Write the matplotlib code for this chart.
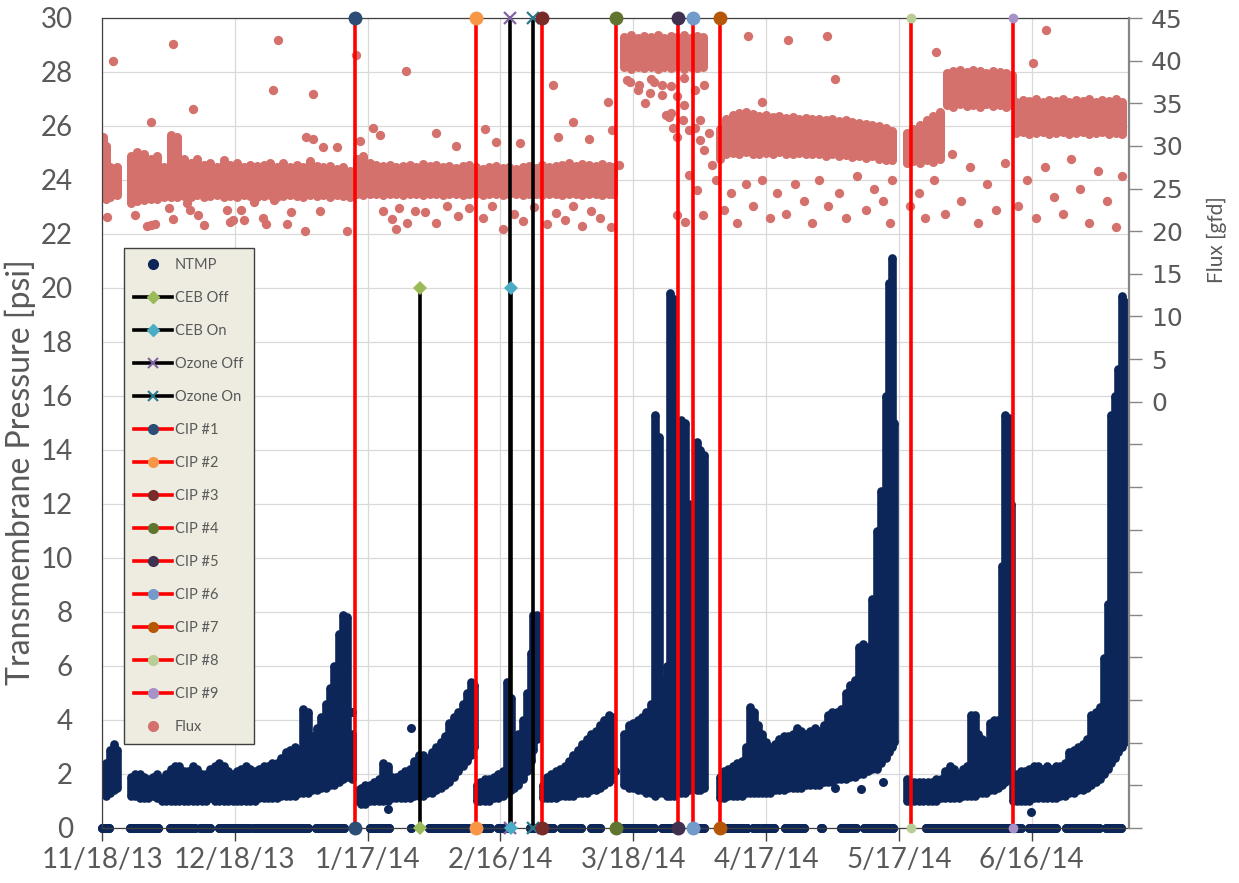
import numpy as np
import matplotlib
matplotlib.use('Agg')
import matplotlib.pyplot as plt
import matplotlib.dates as mdates
from matplotlib.lines import Line2D
from matplotlib.ticker import FixedLocator, FuncFormatter, MultipleLocator
from datetime import datetime

plt.rcParams['font.family'] = ['Lato', 'DejaVu Sans']

# all x values are days since the first sample (11/18/13)
start_date = datetime(2013, 11, 18)
tick_dates = ['2013-11-18', '2013-12-18', '2014-01-17', '2014-02-16',
              '2014-03-18', '2014-04-17', '2014-05-17', '2014-06-16']
last_day = 232

# --- NTMP (psi): per-day low / high of the logged values ---
ntmp_day = [0.2, 1.0, 1.8, 2.6, 3.3,
            6.6, 7.5, 8.5, 9.5, 10.5, 11.5, 12.5, 13.5, 14.5, 15.5, 16.5, 17.5, 18.5, 19.5,
            20.5, 21.5, 22.5, 23.5, 24.5, 25.5, 26.5, 27.5, 28.5, 29.5, 30.5, 31.5, 32.5,
            33.5, 34.5, 35.5, 36.5, 37.5, 38.5, 39.5, 40.5, 41.5, 42.5, 43.5, 44.5, 45.5,
            46.5, 47.5, 48.5, 49.5, 50.5, 51.5, 52.5, 53.5, 54.5, 55.3, 56.4,
            57.8, 58.6, 59.5, 60.5, 61.5, 62.5, 63.5, 64.5, 65.5, 66.5, 67.5, 68.5, 69.5,
            70.5, 71.5, 72.5, 73.5, 74.5, 75.5, 76.5, 77.5, 78.5, 79.5, 80.5, 81.5, 82.5,
            83.3, 84.0,
            84.8, 85.5, 86.5, 87.5, 88.5, 89.5, 90.5, 91.5, 92.3, 93.0, 94.0, 95.0, 96.0,
            96.8, 97.4, 98.2,
            99.6, 100.5, 101.5, 102.5, 103.5, 104.5, 105.5, 106.5, 107.5, 108.5, 109.5,
            110.5, 111.5, 112.5, 113.5, 114.5, 115.3,
            118.0, 119.0, 120.0, 121.0, 122.0, 123.0, 124.0, 124.9, 125.8, 126.7, 127.6,
            128.3, 129.2, 130.8, 131.7, 132.5, 134.3, 135.2, 135.9,
            139.6, 140.5, 141.5, 142.5, 143.5, 144.5, 145.5, 146.4, 147.3, 148.2, 149.0,
            150.0, 151.0, 152.0, 153.0, 154.0, 155.0, 156.0, 157.0, 158.0, 159.0, 160.0,
            161.0, 162.0, 163.0, 164.0, 165.0, 166.0, 167.0, 168.0, 169.0, 170.0, 171.0,
            172.0, 173.0, 174.0, 175.0, 176.0, 177.0, 177.8, 178.5, 179.0,
            181.8, 182.6, 183.5, 184.5, 185.5, 186.5, 187.5, 188.5, 189.5, 190.5, 191.5,
            192.5, 193.5, 194.5, 195.4, 196.2, 197.1, 198.0, 198.9, 199.8, 200.7, 201.6,
            202.4, 203.2, 204.0, 204.8, 205.4,
            205.9, 206.8, 207.7, 208.6, 209.5, 210.5, 211.5, 212.5, 213.5, 214.5, 215.5,
            216.5, 217.5, 218.5, 219.5, 220.5, 221.5, 222.5, 223.5, 224.5, 225.5, 226.4,
            227.2, 228.0, 228.8, 229.6, 230.4, 231.1]
ntmp_lo = [1.3, 1.2, 1.3, 1.4, 1.5,
           1.2, 1.2, 1.1, 1.1, 1.1, 1.2, 1.1, 1.0, 1.0, 1.0, 1.0, 1.0, 1.0, 1.0,
           1.0, 1.0, 1.0, 1.0, 1.1, 1.0, 1.0, 1.0, 1.0, 1.0, 1.0, 1.0, 1.0,
           1.0, 1.0, 1.1, 1.1, 1.1, 1.1, 1.1, 1.2, 1.2, 1.2, 1.2, 1.3, 1.3,
           1.3, 1.4, 1.4, 1.5, 1.5, 1.6, 1.6, 1.7, 1.8, 1.9, 1.8,
           1.0, 0.9, 0.9, 1.0, 1.0, 1.0, 1.0, 1.0, 1.1, 1.1, 1.1, 1.1, 1.1,
           1.2, 1.2, 1.2, 1.3, 1.3, 1.4, 1.5, 1.6, 1.7, 1.9, 2.1, 2.3, 2.5,
           2.7, 3.0,
           1.0, 1.0, 1.0, 1.0, 1.1, 1.1, 1.2, 1.3, 1.4, 1.5, 1.6, 1.8, 2.1,
           2.5, 2.9, 3.3,
           1.1, 1.1, 1.1, 1.1, 1.2, 1.2, 1.2, 1.2, 1.3, 1.3, 1.3,
           1.4, 1.4, 1.5, 1.6, 1.7, 1.8,
           1.6, 1.5, 1.5, 1.4, 1.4, 1.3, 1.3, 1.2, 1.3, 1.3, 1.2,
           1.2, 1.2, 1.3, 1.3, 1.4, 1.4, 1.4, 1.5,
           1.1, 1.1, 1.2, 1.2, 1.2, 1.2, 1.3, 1.3, 1.3, 1.3, 1.3,
           1.3, 1.3, 1.4, 1.4, 1.4, 1.5, 1.5, 1.5, 1.5, 1.6, 1.6,
           1.6, 1.6, 1.7, 1.7, 1.7, 1.8, 1.8, 1.8, 1.9, 1.9, 2.0,
           2.0, 2.1, 2.2, 2.2, 2.4, 2.6, 2.8, 3.0, 3.2,
           1.0, 1.0, 1.0, 1.0, 1.0, 1.0, 1.0, 1.0, 1.1, 1.1, 1.1,
           1.1, 1.1, 1.2, 1.2, 1.2, 1.2, 1.3, 1.3, 1.3, 1.4, 1.4,
           1.5, 1.6, 1.7, 1.8, 1.8,
           1.0, 1.0, 1.0, 1.0, 1.0, 1.1, 1.1, 1.1, 1.1, 1.1, 1.1,
           1.2, 1.2, 1.3, 1.3, 1.4, 1.4, 1.5, 1.6, 1.7, 1.8, 2.0,
           2.2, 2.4, 2.6, 2.8, 3.0, 3.2]
ntmp_hi = [2.0, 2.4, 2.9, 3.1, 2.9,
           1.9, 2.0, 2.0, 1.9, 1.8, 1.9, 2.0, 1.8, 2.0, 2.2, 2.3, 2.3, 2.1, 2.1,
           2.3, 2.2, 2.0, 2.0, 2.2, 2.3, 2.4, 2.3, 2.1, 2.0, 2.1, 2.2, 2.3,
           2.2, 2.1, 2.2, 2.3, 2.3, 2.4, 2.4, 2.6, 2.8, 2.9, 3.0, 2.9, 4.4,
           4.3, 3.4, 3.7, 4.1, 4.6, 5.2, 6.0, 7.2, 7.9, 7.8, 3.5,
           1.4, 1.5, 1.6, 1.6, 1.7, 1.8, 2.4, 2.3, 1.9, 1.9, 2.0, 2.1, 2.2,
           2.5, 2.7, 2.7, 2.6, 2.8, 3.0, 3.2, 3.4, 3.9, 4.1, 4.3, 4.6, 5.0,
           5.4, 5.3,
           1.6, 1.7, 1.8, 1.8, 1.9, 2.0, 2.1, 5.4, 4.8, 3.1, 3.5, 4.0, 5.0,
           6.5, 7.9, 7.9,
           1.6, 1.9, 2.0, 2.1, 2.2, 2.3, 2.5, 2.7, 2.9, 3.1, 3.3,
           3.5, 3.6, 3.8, 4.0, 4.2, 4.1,
           3.5, 3.8, 3.9, 4.0, 4.1, 4.3, 4.6, 15.3, 14.5, 5.5, 6.0,
           19.8, 19.6, 15.1, 15.0, 12.0, 14.3, 14.0, 13.8,
           1.9, 2.1, 2.2, 2.3, 2.4, 2.5, 3.0, 4.5, 4.3, 3.8, 3.5,
           3.2, 3.0, 3.1, 3.3, 3.4, 3.4, 3.5, 3.7, 3.6, 3.5, 3.6,
           3.7, 3.6, 3.8, 4.2, 4.3, 4.3, 4.4, 5.0, 5.3, 5.5, 6.7,
           6.8, 6.7, 8.5, 11.0, 12.5, 16.0, 20.2, 21.1, 15.0,
           1.8, 1.7, 1.7, 1.7, 1.7, 1.7, 1.7, 1.8, 1.8, 2.1, 2.3,
           2.2, 2.0, 2.2, 2.3, 4.2, 4.2, 3.5, 3.3, 3.2, 3.9, 4.0,
           4.0, 9.7, 15.3, 15.2, 12.0,
           1.8, 2.0, 2.1, 2.1, 2.2, 2.3, 2.3, 2.2, 2.3, 2.2, 2.3,
           2.3, 2.4, 2.8, 2.9, 3.0, 3.1, 3.3, 4.2, 4.3, 4.5, 6.3,
           8.3, 15.3, 16.0, 17.0, 19.7, 19.5]

# single NTMP readings standing apart from the main cloud
ntmp_pt_day = [56.4, 69.8, 64.5, 115.9, 165.5, 171.5, 176.5, 209.8]
ntmp_pt_val = [4.3, 3.7, 0.7, 2.1, 1.5, 1.45, 1.7, 0.6]

# days with NTMP = 0 (system offline), as start / end of each run
zero_start = [0.0, 6.3, 15.3, 22.1, 26.4, 34.1, 48.3, 60.5, 69.8, 73.8, 79.9, 85.3,
              89.4, 96.6, 103.6, 110.4, 117.8, 126.6, 133.6, 140.0, 147.0, 149.2,
              154.2, 162.5, 167.0, 172.2, 186.2, 209.5, 217.8, 226.9]
zero_end = [1.6, 12.6, 21.0, 24.4, 33.2, 46.5, 54.6, 64.8, 69.9, 79.2, 82.6, 87.6,
            92.1, 101.8, 108.1, 112.6, 124.8, 129.3, 135.9, 145.6, 148.3, 151.9,
            158.5, 162.6, 170.4, 178.6, 207.7, 215.6, 225.3, 230.2]

# --- Flux (gfd): per-day low / high of the dense band ---
flux_day = [0.2, 1.0, 1.8, 2.6, 3.3,
            6.5, 8.0, 9.5, 11.0, 12.5, 14.0, 15.5, 17.0, 18.5, 20.0, 21.5, 23.0, 24.5,
            26.0, 27.5, 29.0, 30.5, 32.0, 33.5, 35.0, 36.5, 38.0, 39.5, 41.0, 42.5, 44.0,
            45.5, 47.0, 48.5, 50.0, 51.5, 53.0, 54.5, 56.0,
            57.5, 59.0, 60.5, 62.0, 63.5, 65.0, 66.5, 68.0, 69.5, 71.0, 72.5, 74.0, 75.5,
            77.0, 78.5, 80.0, 81.5, 83.0, 84.5, 86.0, 87.5, 89.0, 90.5, 92.0, 93.5, 95.0,
            96.5, 98.0, 99.5, 101.0, 102.5, 104.0, 105.5, 107.0, 108.5, 110.0, 111.5,
            113.0, 114.5, 115.5,
            118.0, 119.5, 121.0, 122.5, 124.0, 125.5, 127.0, 128.5, 130.0, 131.5, 133.0,
            134.5, 135.8,
            139.5, 141.0, 142.5, 144.0, 145.5, 147.0, 148.5, 150.0, 151.5, 153.0, 154.5,
            156.0, 157.5, 159.0, 160.5, 162.0, 163.5, 165.0, 166.5, 168.0, 169.5, 171.0,
            172.5, 174.0, 175.5, 177.0, 178.5,
            181.8, 183.3, 184.8, 186.3, 187.8, 189.3,
            190.8, 192.3, 193.8, 195.3, 196.8, 198.3, 199.8, 201.3, 202.8, 204.3, 205.5,
            206.5, 208.0, 209.5, 211.0, 212.5, 214.0, 215.5, 217.0, 218.5, 220.0, 221.5,
            223.0, 224.5, 226.0, 227.5, 229.0, 230.5]
flux_lo = [24.0, 23.8, 24.0, 24.3, 24.2,
           23.3, 23.5, 23.6, 23.8, 23.8, 24.0, 24.0, 24.0, 24.1, 24.0, 24.2, 24.0, 24.1,
           24.2, 24.0, 24.1, 24.0, 24.2, 24.1, 24.0, 24.1, 24.2, 24.0, 24.1, 24.2, 24.1,
           24.0, 24.2, 24.1, 24.2, 24.0, 24.2, 24.1, 24.0,
           24.3, 24.2, 24.4, 24.3, 24.2, 24.4, 24.3, 24.2, 24.4, 24.3, 24.2, 24.4, 24.3,
           24.2, 24.4, 24.3, 24.2, 24.4, 24.3, 24.2, 24.4, 24.3, 24.2, 24.4, 24.3, 24.2,
           24.4, 24.3, 24.2, 24.4, 24.3, 24.2, 24.4, 24.3, 24.2, 24.4, 24.3,
           24.2, 24.4, 24.3,
           39.2, 39.0, 39.3, 39.1, 39.2, 39.0, 39.3, 39.1, 39.2, 39.0, 39.3,
           39.1, 39.2,
           28.5, 29.0, 29.2, 29.0, 29.3, 29.1, 29.0, 29.2, 29.0, 29.3, 29.1,
           29.0, 29.2, 29.0, 29.1, 29.0, 28.8, 29.0, 28.8, 28.9, 28.7, 28.8,
           28.6, 28.8, 28.5, 28.4, 28.3,
           28.0, 28.2, 28.0, 28.3, 28.1, 28.5,
           34.8, 34.6, 34.9, 34.7, 34.8, 34.6, 34.9, 34.7, 34.8, 34.6, 34.8,
           31.5, 31.6, 31.4, 31.5, 31.6, 31.4, 31.5, 31.6, 31.4, 31.5, 31.6,
           31.4, 31.5, 31.6, 31.4, 31.5, 31.4]
flux_hi = [31.0, 30.0, 27.5, 27.0, 27.5,
           28.8, 29.3, 29.0, 28.5, 28.8, 27.5, 31.3, 31.0, 28.5, 28.0, 28.5, 27.8, 28.0,
           27.5, 28.3, 27.8, 28.0, 27.5, 27.8, 27.6, 27.8, 28.0, 27.5, 28.0, 27.5, 27.8,
           27.5, 28.2, 27.6, 27.5, 27.7, 27.3, 27.5, 27.0,
           28.5, 28.8, 28.0, 27.8, 27.6, 27.8, 27.5, 27.7, 27.8, 27.5, 27.9, 27.6, 27.8,
           27.5, 27.7, 27.4, 27.6, 27.8, 27.5, 27.3, 27.5, 27.6, 27.4, 27.5, 27.3, 27.5,
           27.6, 27.4, 27.8, 27.5, 27.7, 27.8, 28.0, 27.7, 27.9, 27.8, 27.6,
           27.9, 27.7, 27.5,
           42.8, 43.0, 42.7, 42.9, 42.8, 43.0, 42.7, 42.9, 42.8, 43.0, 42.7,
           42.9, 42.8,
           32.0, 33.2, 33.6, 33.8, 34.0, 33.7, 33.5, 33.6, 33.4, 33.5, 33.3,
           33.4, 33.2, 33.3, 33.1, 33.2, 33.0, 33.1, 32.9, 33.0, 32.8, 32.7,
           32.6, 32.5, 32.3, 32.1, 31.8,
           31.5, 32.0, 32.5, 33.0, 33.5, 34.0,
           38.6, 38.8, 38.9, 38.7, 38.9, 38.8, 38.6, 38.8, 38.7, 38.5, 38.3,
           35.2, 35.4, 35.3, 35.5, 35.2, 35.4, 35.3, 35.5, 35.2, 35.4, 35.3,
           35.5, 35.2, 35.4, 35.3, 35.5, 35.2]

# scattered flux readings away from the band
flux_pt_day = [2.5, 16.0, 39.7, 20.5, 38.6, 47.6, 57.3, 68.6, 11.1, 1.1, 7.4, 10.2, 11.1,
               12.0, 15.1, 16.0, 19.2, 19.9, 21.7, 23.0, 28.2, 28.9, 29.6, 31.4, 32.1,
               34.3, 36.3, 37.0, 38.8, 41.8, 42.7, 45.8, 49.2, 55.3, 63.4, 65.5, 66.4,
               67.0, 68.8, 70.7, 46.0, 47.6, 49.9, 53.0, 58.2, 61.2, 62.8,
               101.8, 114.2, 146.0, 154.9, 163.7, 165.5, 149.0, 188.3, 210.4, 213.3,
               122.6, 119.2, 121.0, 124.0, 126.5, 128.5, 130.0, 131.5, 134.0, 136.0, 128.0,
               73.0, 75.5, 78.0, 80.5, 83.0, 86.0, 88.0, 90.5, 93.0, 95.0, 97.5, 100.5,
               102.5, 104.5, 106.5, 108.5, 110.5, 112.5, 115.0,
               75.5, 80.0, 86.5, 89.0, 94.5, 103.0, 106.5, 110.0,
               118.7, 121.4, 123.7, 124.8, 126.6, 127.5, 128.6, 129.1, 129.8, 131.2,
               131.4, 132.7, 133.9, 135.0, 135.0, 136.1, 137.2, 137.9, 138.8, 135.7,
               134.3, 132.7, 131.6, 130.0, 115.1, 116.9,
               140.5, 142.0, 143.5, 145.5, 147.0, 149.0, 151.0, 152.5, 154.5, 156.5,
               158.5, 160.5, 162.0, 164.0, 166.5, 168.0, 170.5, 172.5, 174.5, 176.5,
               178.0, 178.5,
               182.5, 184.5, 186.0, 188.0, 190.5, 192.0, 194.0, 196.0, 198.0, 200.0,
               202.0, 204.0,
               207.0, 209.0, 211.0, 213.0, 215.0, 217.0, 219.0, 221.0, 223.0, 225.0,
               227.0, 229.0, 230.5]
flux_pt_val = [40.0, 42.0, 42.4, 34.3, 36.6, 36.1, 40.7, 38.8, 32.8, 21.7, 21.9, 20.6, 20.7,
               20.8, 22.7, 21.4, 23.3, 22.5, 21.9, 20.7, 22.5, 21.1, 21.3, 22.5, 21.3,
               23.4, 21.6, 20.8, 23.6, 20.8, 22.3, 20.0, 22.4, 20.0, 22.4, 21.4, 20.2,
               22.7, 21.0, 22.4, 31.0, 30.8, 29.9, 29.9, 30.6, 32.1, 31.3,
               37.1, 35.1, 42.9, 42.4, 42.9, 37.8, 35.2, 41.0, 39.7, 43.6,
               35.0, 37.5, 36.5, 37.8, 36.0, 37.0, 35.8, 38.0, 36.5, 37.2, 33.4,
               22.3, 21.0, 23.0, 21.8, 22.7, 21.5, 22.9, 20.3, 22.0, 21.2, 22.8, 20.8,
               22.1, 21.3, 23.0, 20.6, 22.4, 21.6, 20.5,
               31.5, 30.0, 32.0, 30.5, 30.3, 31.0, 32.8, 30.8,
               37.7, 37.2, 36.2, 37.5, 37.1, 33.6, 33.8, 32.1, 31.0, 33.0,
               34.8, 31.9, 32.1, 33.0, 30.7, 29.5, 31.5, 27.8, 26.0, 21.9,
               24.8, 26.6, 21.1, 21.9, 31.9, 27.8,
               22.5, 24.5, 21.0, 25.5, 23.0, 26.0, 21.5, 24.5, 22.0, 25.5,
               23.5, 21.0, 26.0, 23.0, 24.5, 21.5, 26.5, 22.5, 25.0, 23.5,
               21.0, 26.0,
               23.0, 24.5, 21.5, 26.0, 22.0, 29.0, 23.5, 27.5, 21.0, 25.5,
               22.5, 28.0,
               23.0, 26.0, 21.5, 27.5, 24.0, 22.0, 28.5, 25.0, 21.0, 27.0,
               23.5, 20.5, 26.5]

# --- cleaning events (days) ---
ceb_off_day, ceb_on_day = 71.8, 92.3
ozone_off_day, ozone_on_day = 92.1, 97.4
cip_days = [57.1, 84.4, 99.3, 116.0, 130.1, 133.6, 139.7, 182.8, 205.7]
cip_labels = ['CIP #1', 'CIP #2', 'CIP #3', 'CIP #4', 'CIP #5', 'CIP #6', 'CIP #7',
              'CIP #8', 'CIP #9']
cip_colors = ['#2C4D75', '#F79646', '#772C2A', '#5F7530', '#403151', '#729ACA',
              '#B65708', '#B9CD96', '#A692C6']
cip_sizes = [10, 10, 10, 10, 10, 10, 10, 7, 7]

ntmp_color = '#0C2659'
flux_color = '#D4716C'
grey = '#595959'

t0 = mdates.date2num(start_date)


def cloud(days, lo, hi, color, lw, **kw):
    # one vertical stroke per day, with dots on both ends for rounded edges
    x = t0 + np.array(days)
    ax.vlines(x, lo, hi, color=color, lw=lw, **kw)
    ax.scatter(np.r_[x, x], np.r_[lo, hi], s=lw ** 2, color=color, lw=0, **kw)


fig = plt.figure(figsize=(12.39, 8.83), dpi=100)
ax = fig.add_axes([102 / 1239, 1 - 828 / 883, 1027 / 1239, 810 / 883])
ax2 = ax.twinx()

ax.set_xlim(t0, t0 + last_day)
ax.set_ylim(0, 30)
ax2.set_ylim(-50, 45)

# flux lives on the right-hand scale but is drawn in the main axes so it stays
# underneath the TMP cloud and the event lines
ftr = ax2.transData
cloud(flux_day, flux_lo, flux_hi, flux_color, 6.5, transform=ftr, zorder=1)
ax.scatter(t0 + np.array(flux_pt_day), flux_pt_val, s=45, color=flux_color, lw=0,
           transform=ftr, zorder=1)

# NTMP cloud
cloud(ntmp_day, ntmp_lo, ntmp_hi, ntmp_color, 6.2, zorder=2)
ax.scatter(t0 + np.array(ntmp_pt_day), ntmp_pt_val, s=42, color=ntmp_color, lw=0, zorder=2)
ax.hlines(np.zeros(len(zero_start)), t0 + np.array(zero_start), t0 + np.array(zero_end),
          color=ntmp_color, lw=6.5, capstyle='round', zorder=2, clip_on=False)
ax.scatter(t0 + np.r_[zero_start, zero_end], np.zeros(2 * len(zero_start)), s=42,
           color=ntmp_color, lw=0, zorder=2, clip_on=False)


def event(day, top, line_color, marker, mcolor, ms, mew=0):
    ax.plot([t0 + day, t0 + day], [0, top], color=line_color, lw=2.6, marker=marker,
            ms=ms, mfc=mcolor, mec=mcolor, mew=mew, clip_on=False, zorder=4)


event(ceb_off_day, 20, 'black', 'D', '#9BBB59', 7)
event(ozone_off_day, 30, 'black', 'x', '#8064A2', 9, 1.6)
event(ceb_on_day, 20, 'black', 'D', '#4BACC6', 7)
event(ozone_on_day, 30, 'black', 'x', '#2B7A8C', 9, 1.6)
for d, c, s in zip(cip_days, cip_colors, cip_sizes):
    event(d, 30, '#FF0000', 'o', c, s)

# axes styling
ax.xaxis.set_major_locator(FixedLocator([mdates.date2num(datetime.strptime(t, '%Y-%m-%d'))
                                         for t in tick_dates]))
ax.xaxis.set_major_formatter(FuncFormatter(
    lambda v, p: '{d.month}/{d.day}/{y}'.format(d=mdates.num2date(v),
                                                y=mdates.num2date(v).strftime('%y'))))
ax.yaxis.set_major_locator(MultipleLocator(2))
ax.grid(True, color='#D9D9D9', lw=0.9)
ax.set_axisbelow(True)
ax.tick_params(axis='y', length=0, labelsize=20, labelcolor=grey, pad=21)
ax.tick_params(axis='x', length=9, width=1, color='#404040', labelsize=20,
               labelcolor=grey, pad=5)
for side in ['left', 'top', 'bottom']:
    ax.spines[side].set_color('#404040')
    ax.spines[side].set_linewidth(0.9)
ax.spines['right'].set_visible(False)
ax.set_ylabel('Transmembrane Pressure [psi]', fontsize=23, color=grey)
ax.yaxis.set_label_coords((36 - 102) / 1027, (828 - 472) / 810)

ax2.yaxis.set_major_locator(MultipleLocator(5))
ax2.yaxis.set_major_formatter(FuncFormatter(lambda v, p: '%d' % round(v) if v > -0.5 else ''))
ax2.tick_params(axis='y', length=9, width=1, color='#868686', labelsize=18,
                labelcolor=grey, pad=7)
for lab in ax2.get_yticklabels():
    lab.set_family('DejaVu Sans')
for side in ['left', 'top', 'bottom']:
    ax2.spines[side].set_visible(False)
ax2.spines['right'].set_color('#868686')
ax2.spines['right'].set_linewidth(1.6)
ax2.set_ylabel('Flux [gfd]', fontsize=15, color=grey)
ax2.yaxis.set_label_coords((1207 - 102) / 1027, (828 - 240) / 810)

# legend
handles = [Line2D([], [], ls='none', marker='o', ms=7, color=ntmp_color)]
handles += [Line2D([], [], color='black', lw=2.6, marker='D', ms=6, mfc=c, mec=c)
            for c in ['#9BBB59', '#4BACC6']]
handles += [Line2D([], [], color='black', lw=2.6, marker='x', ms=7, mew=1.5, mec=c)
            for c in ['#8064A2', '#2B7A8C']]
handles += [Line2D([], [], color='#FF0000', lw=2.6, marker='o', ms=7, mfc=c, mec=c)
            for c in cip_colors]
handles += [Line2D([], [], ls='none', marker='o', ms=7, color=flux_color)]
labels = ['NTMP', 'CEB Off', 'CEB On', 'Ozone Off', 'Ozone On'] + cip_labels + ['Flux']
leg = ax.legend(handles, labels, loc='upper left',
                bbox_to_anchor=((124 - 102) / 1027, (828 - 248) / 810),
                fontsize=10.5, labelcolor=grey, frameon=True, fancybox=False,
                facecolor='#EEECE1', edgecolor='#404040', framealpha=1,
                handlelength=2.6, handletextpad=0.2, labelspacing=1.3,
                borderpad=0.7, borderaxespad=0)
leg.set_zorder(10)

fig.savefig('out.png', dpi=100)
